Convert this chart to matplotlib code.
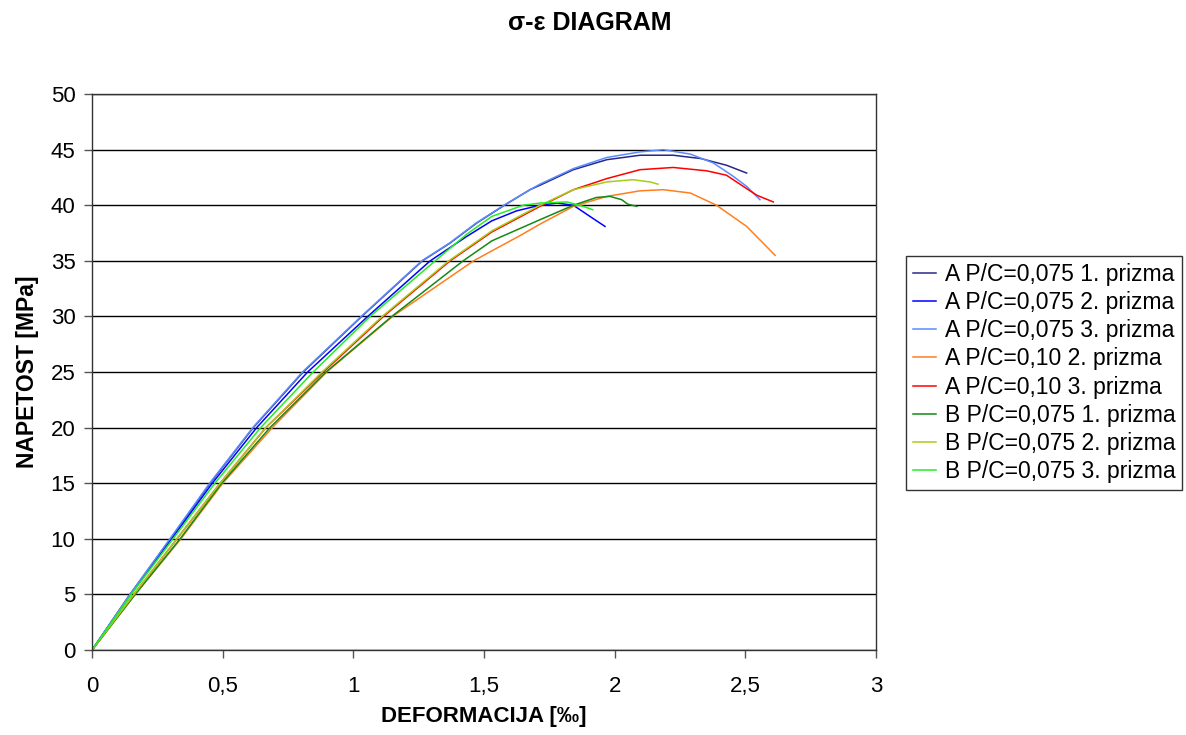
import matplotlib
matplotlib.use('Agg')
import matplotlib.pyplot as plt
from matplotlib.ticker import FuncFormatter

plt.rcParams['font.family'] = ['Liberation Sans', 'DejaVu Sans']

# series: deformation [per mille] vs stress [MPa]
labels = ['A P/C=0,075 1. prizma', 'A P/C=0,075 2. prizma', 'A P/C=0,075 3. prizma',
          'A P/C=0,10 2. prizma', 'A P/C=0,10 3. prizma',
          'B P/C=0,075 1. prizma', 'B P/C=0,075 2. prizma', 'B P/C=0,075 3. prizma']
colors = ['#28288a', '#0000ff', '#5b8cff', '#ff7f1e', '#ff0000',
          '#138a13', '#a8cc1c', '#22ee22']

a1_x = [0, 0.145, 0.30, 0.452, 0.617, 0.808, 1.032, 1.264, 1.37, 1.472, 1.578, 1.676, 1.714, 1.842, 1.97, 2.097, 2.224, 2.33, 2.428, 2.505]
a1_y = [0, 5, 10, 15, 20, 25, 30, 35, 36.6, 38.4, 40, 41.4, 41.8, 43.2, 44.1, 44.5, 44.5, 44.2, 43.6, 42.9]

a2_x = [0, 0.148, 0.305, 0.46, 0.63, 0.825, 1.055, 1.294, 1.434, 1.53, 1.625, 1.714, 1.78, 1.842, 1.88, 1.918, 1.963]
a2_y = [0, 5, 10, 15, 20, 25, 30, 35, 37.2, 38.6, 39.5, 40.0, 40.2, 40.0, 39.4, 38.8, 38.1]

a3_x = [0, 0.145, 0.298, 0.450, 0.615, 0.805, 1.03, 1.262, 1.368, 1.47, 1.576, 1.676, 1.714, 1.842, 1.97, 2.097, 2.186, 2.29, 2.378, 2.454, 2.505, 2.556]
a3_y = [0, 5, 10, 15, 20, 25, 30, 35, 36.6, 38.4, 40, 41.4, 41.9, 43.3, 44.3, 44.8, 45.0, 44.6, 43.8, 42.6, 41.7, 40.5]

a102_x = [0, 0.165, 0.34, 0.50, 0.69, 0.898, 1.15, 1.46, 1.53, 1.64, 1.714, 1.842, 1.97, 2.097, 2.186, 2.29, 2.39, 2.505, 2.614]
a102_y = [0, 5, 10, 15, 20, 25, 30, 35, 35.9, 37.3, 38.3, 39.9, 40.8, 41.3, 41.4, 41.1, 40.0, 38.1, 35.5]

a103_x = [0, 0.16, 0.325, 0.49, 0.665, 0.885, 1.115, 1.37, 1.53, 1.714, 1.842, 1.97, 2.097, 2.224, 2.352, 2.428, 2.505, 2.544, 2.607]
a103_y = [0, 5, 10, 15, 20, 25, 30, 35, 37.6, 39.9, 41.4, 42.4, 43.2, 43.4, 43.1, 42.7, 41.5, 40.9, 40.3]

b1_x = [0, 0.165, 0.337, 0.496, 0.681, 0.895, 1.147, 1.42, 1.53, 1.714, 1.842, 1.93, 1.982, 2.027, 2.05, 2.085]
b1_y = [0, 5, 10, 15, 20, 25, 30, 35, 36.8, 38.7, 40.0, 40.7, 40.8, 40.5, 40.1, 39.9]

b2_x = [0, 0.16, 0.325, 0.49, 0.665, 0.88, 1.11, 1.365, 1.53, 1.714, 1.842, 1.97, 2.07, 2.135, 2.166]
b2_y = [0, 5, 10, 15, 20, 25, 30, 35, 37.7, 40.0, 41.4, 42.1, 42.3, 42.1, 41.9]

b3_x = [0, 0.15, 0.31, 0.47, 0.645, 0.846, 1.064, 1.313, 1.434, 1.53, 1.65, 1.714, 1.817, 1.88, 1.916]
b3_y = [0, 5, 10, 15, 20, 25, 30, 35, 37.4, 39.0, 40.0, 40.2, 40.3, 39.9, 39.6]

series = [(a1_x, a1_y), (a2_x, a2_y), (a3_x, a3_y), (a102_x, a102_y),
          (a103_x, a103_y), (b1_x, b1_y), (b2_x, b2_y), (b3_x, b3_y)]

fig = plt.figure(figsize=(11.86, 7.35), dpi=100)
ax = fig.add_axes([0.0776, 0.1156, 0.661, 0.7564])

for (xs, ys), lab, c in zip(series, labels, colors):
    ax.plot(xs, ys, color=c, lw=1.1, label=lab)

ax.set_xlim(0, 3)
ax.set_ylim(0, 50)
ax.set_xticks([0, 0.5, 1, 1.5, 2, 2.5, 3])
ax.set_yticks(range(0, 51, 5))
ax.xaxis.set_major_formatter(FuncFormatter(lambda v, p: ('%g' % v).replace('.', ',')))
ax.yaxis.grid(True, color='black', lw=1)
ax.set_axisbelow(True)
for s in ax.spines.values():
    s.set_color('#333333')
    s.set_linewidth(1)
ax.tick_params(direction='out', length=6, width=1, color='#555555', labelsize=16)
ax.tick_params(axis='x', pad=13)
ax.tick_params(axis='y', pad=6)

ax.set_xlabel('DEFORMACIJA [‰]', fontsize=16, fontweight='bold', labelpad=6)
ax.set_ylabel('NAPETOST [MPa]', fontsize=16.5, fontweight='bold', labelpad=8)
fig.suptitle('σ-ε DIAGRAM', fontsize=18, fontweight='bold', x=0.497, y=0.985)

leg = ax.legend(loc='center left', bbox_to_anchor=(906 / 1186, (735 - 373) / 735),
                bbox_transform=fig.transFigure, fontsize=16.5, frameon=True, fancybox=False,
                handlelength=1.0, handletextpad=0.4, borderpad=0.3, labelspacing=0.22,
                borderaxespad=0)
leg.get_frame().set_edgecolor('black')
leg.get_frame().set_linewidth(1)

fig.savefig('out.png', dpi=100)
